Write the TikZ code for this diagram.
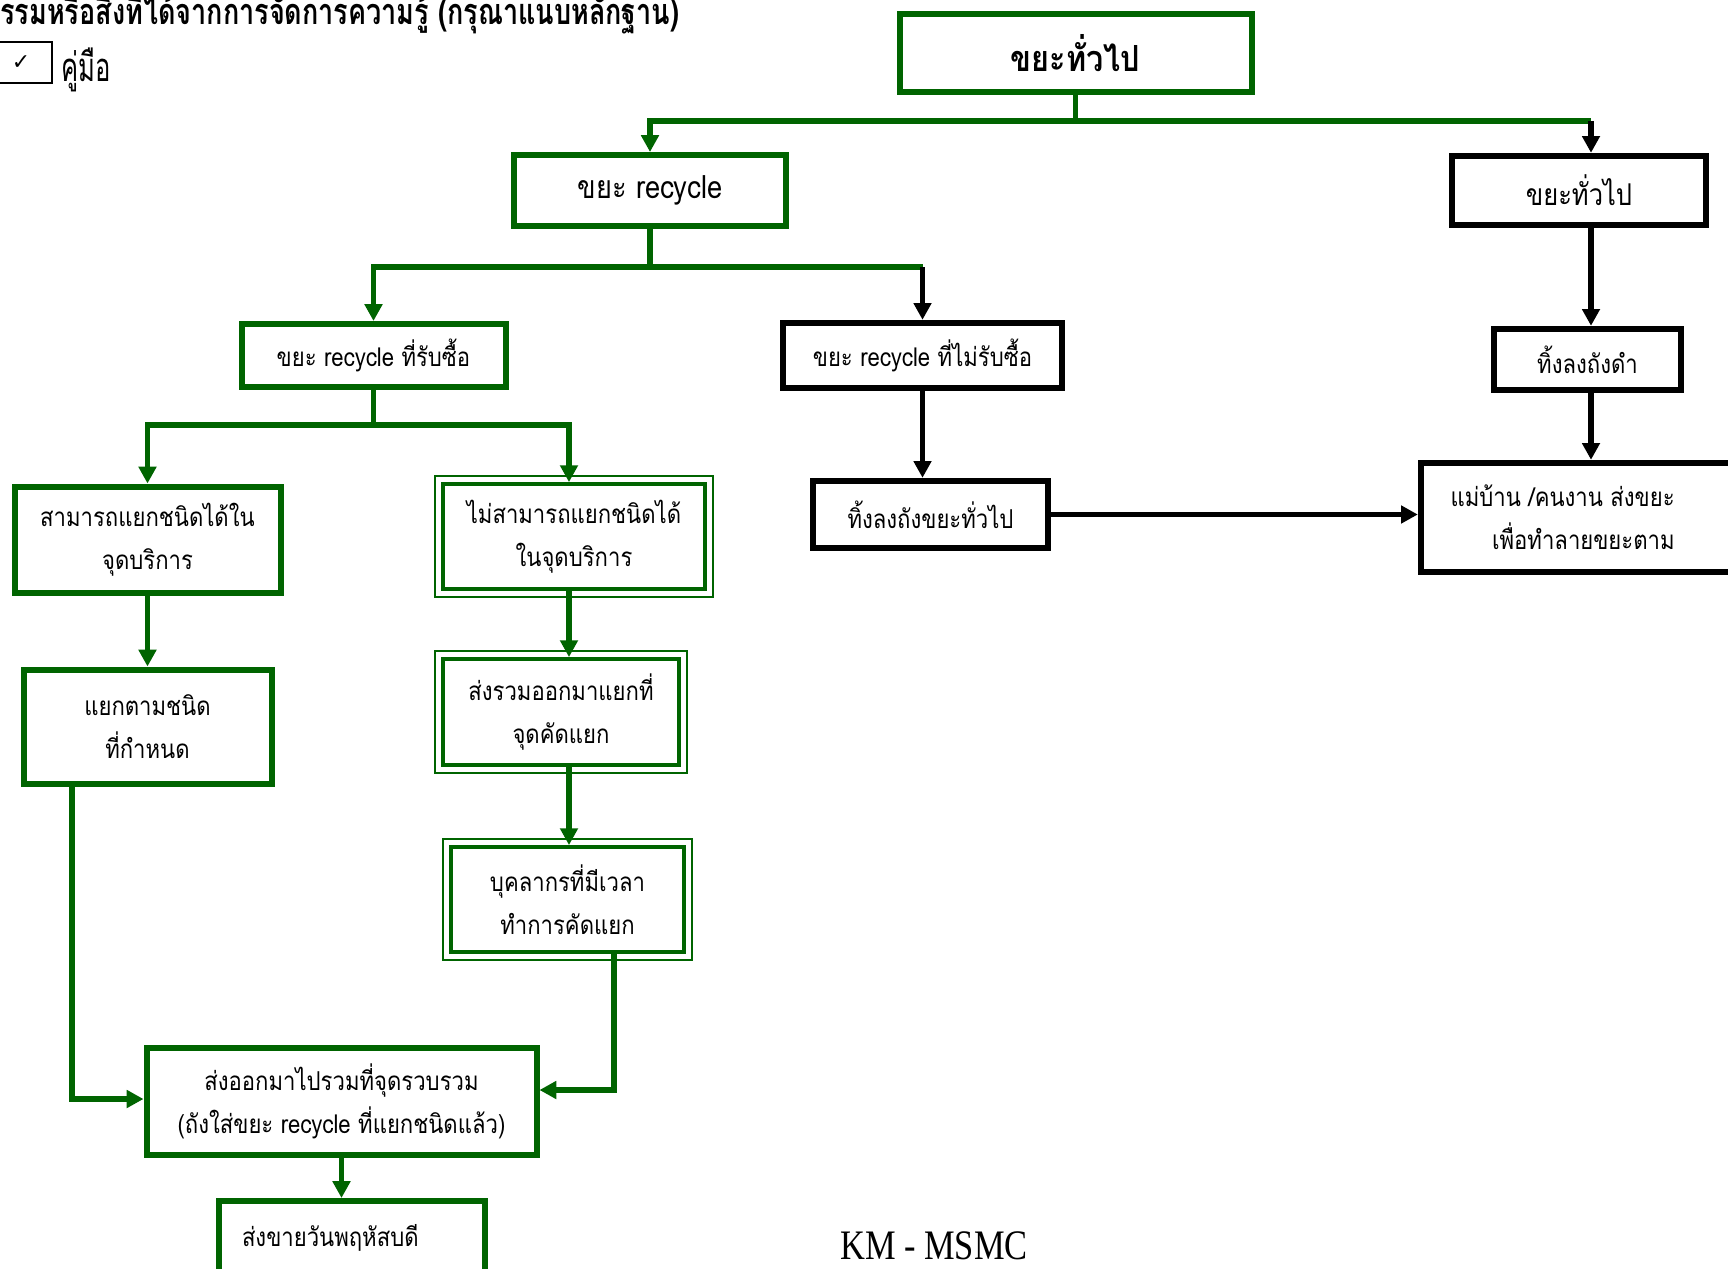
\documentclass[tikz,border=0pt]{standalone}
\usepackage{fontspec}
\usetikzlibrary{arrows.meta}
\setmainfont{Liberation Serif}
\newfontfamily\thai[Script=Thai,FakeStretch=0.85]{Loma}
\newfontfamily\thaihead[Script=Thai,FakeStretch=0.75]{Loma}
\newfontfamily\thaiman[Script=Thai,FakeStretch=0.64]{Loma}
\newfontfamily\kmfont[FakeStretch=0.82]{Liberation Serif}
\newfontfamily\dejavu{DejaVu Sans}
\definecolor{dgreen}{RGB}{0,100,0}
\begin{document}
\begin{tikzpicture}[x=0.5pt,y=-0.5pt,
  box/.style={draw=dgreen, line width=3pt, fill=white, align=center, inner sep=0pt,
    font=\thai\fontsize{13}{21.5}\selectfont},
  kbox/.style={box, draw=black, line width=3.2pt},
  dbox/.style={box, line width=1.9pt},
  gline/.style={draw=dgreen, line width=2.7pt},
  kline/.style={draw=black, line width=2.7pt},
  tip/.tip={Triangle[width=8.6pt,length=8.4pt]}]
\useasboundingbox (0,0) rectangle (1728,1268);
% header
\node[anchor=base west, inner sep=0pt, font=\thaihead\bfseries\fontsize{18}{18}\selectfont] (head) at (0,25)
  {รรมหรือสิ่งที่ได้จากการจัดการความรู้ (กรุณาแนบหลักฐาน)};
\node[draw=black, line width=1pt, minimum width=31pt, minimum height=20.5pt, inner sep=0pt,
  font=\dejavu\fontsize{11}{11}\selectfont] (chk) at (21,62.5) {✓};
\node[anchor=west, inner sep=0pt, font=\thaiman\fontsize{20}{20}\selectfont] (manual) at (61,70) {คู่มือ};
% boxes
\node[box, minimum width=176pt, minimum height=39pt, font=\thai\bfseries\fontsize{18}{18}\selectfont] (A) at (1075.5,53.5) {ขยะทั่วไป};
\node[box, minimum width=136pt, minimum height=35.5pt, font=\thai\fontsize{16}{16}\selectfont] (B) at (650,190.5) {ขยะ recycle};
\node[kbox, minimum width=127pt, minimum height=34.5pt, font=\thai\fontsize{15}{15}\selectfont] (C) at (1579,190.5) {ขยะทั่วไป};
\node[box, minimum width=132pt, minimum height=31.5pt] (D) at (373.5,355.5) {ขยะ recycle ที่รับซื้อ};
\node[kbox, minimum width=139.5pt, minimum height=32.5pt] (E) at (922.5,355.5) {ขยะ recycle ที่ไม่รับซื้อ};
\node[kbox, minimum width=93.5pt, minimum height=30.5pt] (F) at (1587.5,359.5) {ทิ้งลงถังดำ};
\node[kbox, minimum width=158pt, minimum height=54.5pt] (G) at (1579,517.5) {};
\node[anchor=east, align=right, inner sep=0pt, font=\thai\fontsize{13}{21.5}\selectfont] (Gt) at (1675,517) {แม่บ้าน /คนงาน ส่งขยะ\\เพื่อทำลายขยะตาม};
\node[kbox, minimum width=117.5pt, minimum height=33.5pt] (H) at (930.5,514.5) {ทิ้งลงถังขยะทั่วไป};
\node[box, minimum width=133pt, minimum height=53pt] (I) at (147.5,539.5) {สามารถแยกชนิดได้ใน\\จุดบริการ};
\node[dbox, minimum width=131pt, minimum height=52.5pt] (J) at (574,536.5) {ไม่สามารถแยกชนิดได้\\ในจุดบริการ};
\node[box, minimum width=124pt, minimum height=57pt] (K) at (147.5,726.5) {แยกตามชนิด\\ที่กำหนด};
\node[dbox, minimum width=118pt, minimum height=53pt] (L) at (561,712) {ส่งรวมออกมาแยกที่\\จุดคัดแยก};
\node[dbox, minimum width=116.5pt, minimum height=52.5pt] (M) at (567.5,899.5) {บุคลากรที่มีเวลา\\ทำการคัดแยก};
\node[box, minimum width=195pt, minimum height=53.5pt] (N) at (341.5,1101) {ส่งออกมาไปรวมที่จุดรวบรวม\\(ถังใส่ขยะ recycle ที่แยกชนิดแล้ว)};
\node[box, minimum height=37pt, text width=110pt, inner xsep=11.5pt, align=left] (O) at (352,1238) {ส่งขายวันพฤหัสบดี};
% double outlines
\foreach \n in {J,L,M}
  \draw[dgreen, line width=1.2pt] ([xshift=-3pt,yshift=-3pt]\n.south west) rectangle ([xshift=3pt,yshift=3pt]\n.north east);
% coordinates
\coordinate (bus1) at (1081,121);
\coordinate (bus2) at (647,267);
\coordinate (bus3) at (369,425);
\coordinate (colR) at (1591,0);
\coordinate (colJ) at (569,0);
\coordinate (mN) at (614,1090);
\coordinate (kN) at (72,1099);
% connectors
\draw[gline] (A.south) -- (A.south |- bus1);
\draw[gline,-tip] (colR |- bus1) -- (B.north |- bus1) -- (B.north);
\draw[kline,-tip] (colR |- bus1) -- (colR |- C.north);
\draw[gline] (B.south) -- (B.south |- bus2);
\draw[gline,-tip] (E.north |- bus2) -- (D.north |- bus2) -- (D.north);
\draw[kline,-tip] (E.north |- bus2) -- (E.north);
\draw[gline] (D.south) -- (D.south |- bus3);
\draw[gline,tip-tip] (I.north) -- (I.north |- bus3) -- (colJ |- bus3) -- (colJ |- J.north);
\draw[gline,-tip] (I.south) -- (I.south |- K.north);
\draw[gline,-tip] (colJ |- J.south) -- (colJ |- L.north);
\draw[gline,-tip] (colJ |- L.south) -- (colJ |- M.north);
\draw[gline,-tip] (mN |- M.south) -- (mN) -- (mN -| N.east);
\draw[gline,-tip] (kN |- K.south) -- (kN) -- (kN -| N.west);
\draw[gline,-tip] (N.south) -- (N.south |- O.north);
\draw[kline,-tip] (colR |- C.south) -- (colR |- F.north);
\draw[kline,-tip] (colR |- F.south) -- (colR |- G.north);
\draw[kline,-tip] (E.south) -- (E.south |- H.north);
\draw[kline,-tip] (H.east) -- (H.east -| G.west);
% footer
\node[font=\kmfont\fontsize{21}{21}\selectfont, inner sep=0pt] (km) at (934,1246) {KM - MSMC};
\end{tikzpicture}
\end{document}
